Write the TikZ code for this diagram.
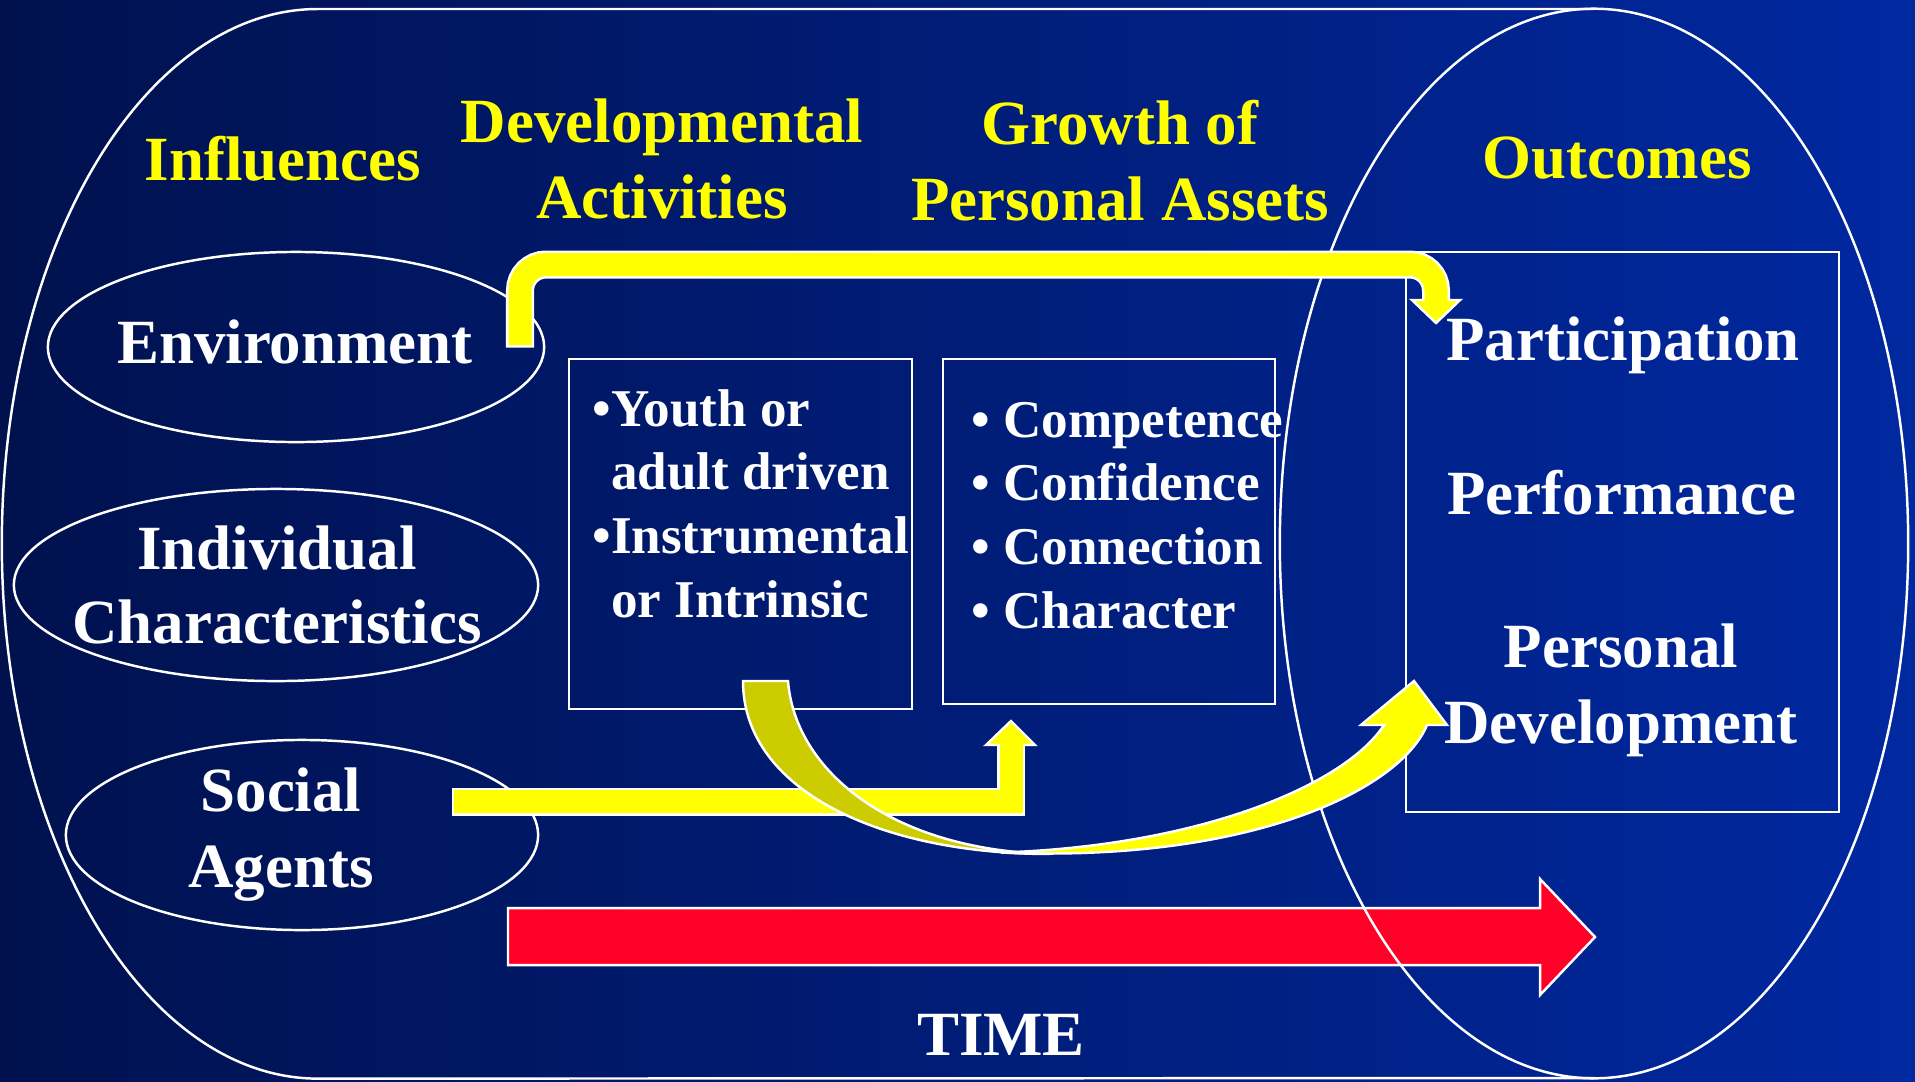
\documentclass[tikz,border=0pt]{standalone}
\usepackage{fontspec}
\setmainfont{Liberation Serif}
\usepackage{xcolor}
\usetikzlibrary{
    shapes.geometric,
    arrows.meta,
    positioning,
    calc
}
\definecolor{bgleft}{RGB}{0, 17, 78}
\definecolor{bgright}{RGB}{0, 40, 160}
\definecolor{slideyellow}{RGB}{255, 255, 0}
\definecolor{darkyellow}{RGB}{204, 204, 0}
\definecolor{timered}{RGB}{255, 0, 40}
\newcommand{\slidefont}{\fontsize{17.9}{21.6}\selectfont\bfseries}
\newcommand{\listfont}{\fontsize{15.1}{18.1}\selectfont\bfseries}

\begin{document}
\begin{tikzpicture}[x=0.01cm, y=-0.01cm,
        oval/.style={draw=white, line width=0.7pt, ellipse, inner sep=0pt},
        box/.style={draw=white, line width=0.7pt, inner sep=0pt},
        heading/.style={text=slideyellow, font=\slidefont, align=center, anchor=base},
        word/.style={text=white, font=\slidefont, align=center, anchor=base},
        listing/.style={text=white, font=\listfont, align=left, anchor=base west},
        fatedge/.style={white, line width=0.28cm},
        fatbody/.style={slideyellow, line width=0.23cm},
        headfill/.style={fill=slideyellow, draw=white, line width=0.7pt}
    ]
        % Background
        \useasboundingbox (0,0) rectangle (1915,1081);
        \shade[left color=bgleft, right color=bgright] (0,0) rectangle (1915,1081);

        % Time arrow
        \draw[fill=timered, draw=white, line width=0.7pt] (508,908) -- (1540,908) -- (1540,879) -- (1595,937) -- (1540,995) -- (1540,965) -- (508,965) -- cycle;
        \node[word] (time) at (1001,1055) {TIME};

        % Frame and outcome oval
        \draw[white, line width=0.7pt] (1594,9) -- (318,9) arc[start angle=90, end angle=270, x radius=3.16cm, y radius=5.345cm] -- (1594,1078);
        \node[oval, minimum width=6.28cm, minimum height=10.69cm] (outoval) at (1594,543.5) {};

        % Headings (multi-line nodes sit on their last line)
        \node[heading] (influences) at (283,180) {Influences};
        \node[heading] (devact) at (662,218) {Developmental\\Activities};
        \node[heading] (growth) at (1120,220) {Growth of\\Personal Assets};
        \node[heading] (outcomes) at (1617,178) {Outcomes};

        % Influences
        \node[oval, minimum width=4.96cm, minimum height=1.90cm] (env) at (296,347) {};
        \node[oval, minimum width=5.24cm, minimum height=1.92cm] (indiv) at (276,585) {};
        \node[oval, minimum width=4.72cm, minimum height=1.90cm] (social) at (302,835) {};
        \node[word] (envtext) at (295,363) {Environment};
        \node[word, font=\fontsize{17.9}{20.8}\selectfont\bfseries] (indivtext) at (277,643) {Individual\\Characteristics};
        \node[word] (socialtext) at (281,887) {Social\\Agents};

        % Boxes
        \node[box, minimum width=3.43cm, minimum height=3.50cm] (activities) at (740.5,534) {};
        \node[box, minimum width=3.32cm, minimum height=3.45cm] (assets) at (1109,531.5) {};
        \node[box, minimum width=4.33cm, minimum height=5.60cm] (results) at (1622.5,532) {};
        \node[listing] (actlist) at (580,617) {•Youth or\\\phantom{•}adult driven\\•Instrumental\\\phantom{•}or Intrinsic};
        \node[listing] (assetlist) at (959,628) {• Competence\\• Confidence\\• Connection\\• Character};
        \node[word] (participation) at (1623,360) {Participation};
        \node[word] (performance) at (1622,514) {Performance};
        \node[word] (persdev) at (1621,743) {Personal\\Development};

        % Social agents -> assets
        \coordinate (socialstart) at (454,801.5);
        \coordinate (socialbend) at (1011,801.5);
        \coordinate (socialhead) at (1011,745);
        \draw[fatedge] ($(socialstart)+(-2.5,0)$) -- (socialbend) -- (socialhead);
        \draw[headfill] (986,745) -- (1035,745) -- (1011,721) -- cycle;
        \draw[fatbody] (socialstart) -- (socialbend) -- ($(socialhead)+(0,-2)$);

        % Activities -> outcomes (curved)
        \draw[fill=darkyellow, draw=white, line width=0.7pt] (743,681) .. controls (743,790) and (880,854) .. (1050,854) .. controls (890,850) and (795,770) .. (788,681) -- cycle;
        \draw[fill=slideyellow, draw=white, line width=0.7pt] (1001,852.5) .. controls (1250,863) and (1400,790) .. (1427,725) -- (1447,725) -- (1414,681) -- (1361,725) -- (1384,725) .. controls (1345,785) and (1200,846) .. (1001,852.5) -- cycle;

        % Environment -> outcomes
        \coordinate (envstart) at (520,345);
        \coordinate (envup) at (520,264.5);
        \coordinate (envover) at (1436,264.5);
        \coordinate (envhead) at (1436,300);
        \draw[fatedge, rounded corners=0.26cm] ($(envstart)+(0,2.5)$) -- (envup) -- (envover) -- (envhead);
        \draw[headfill] (1412,300) -- (1460,300) -- (1436,323) -- cycle;
        \draw[fatbody, rounded corners=0.26cm] (envstart) -- (envup) -- (envover) -- ($(envhead)+(0,2)$);
    \end{tikzpicture}
\end{document}
